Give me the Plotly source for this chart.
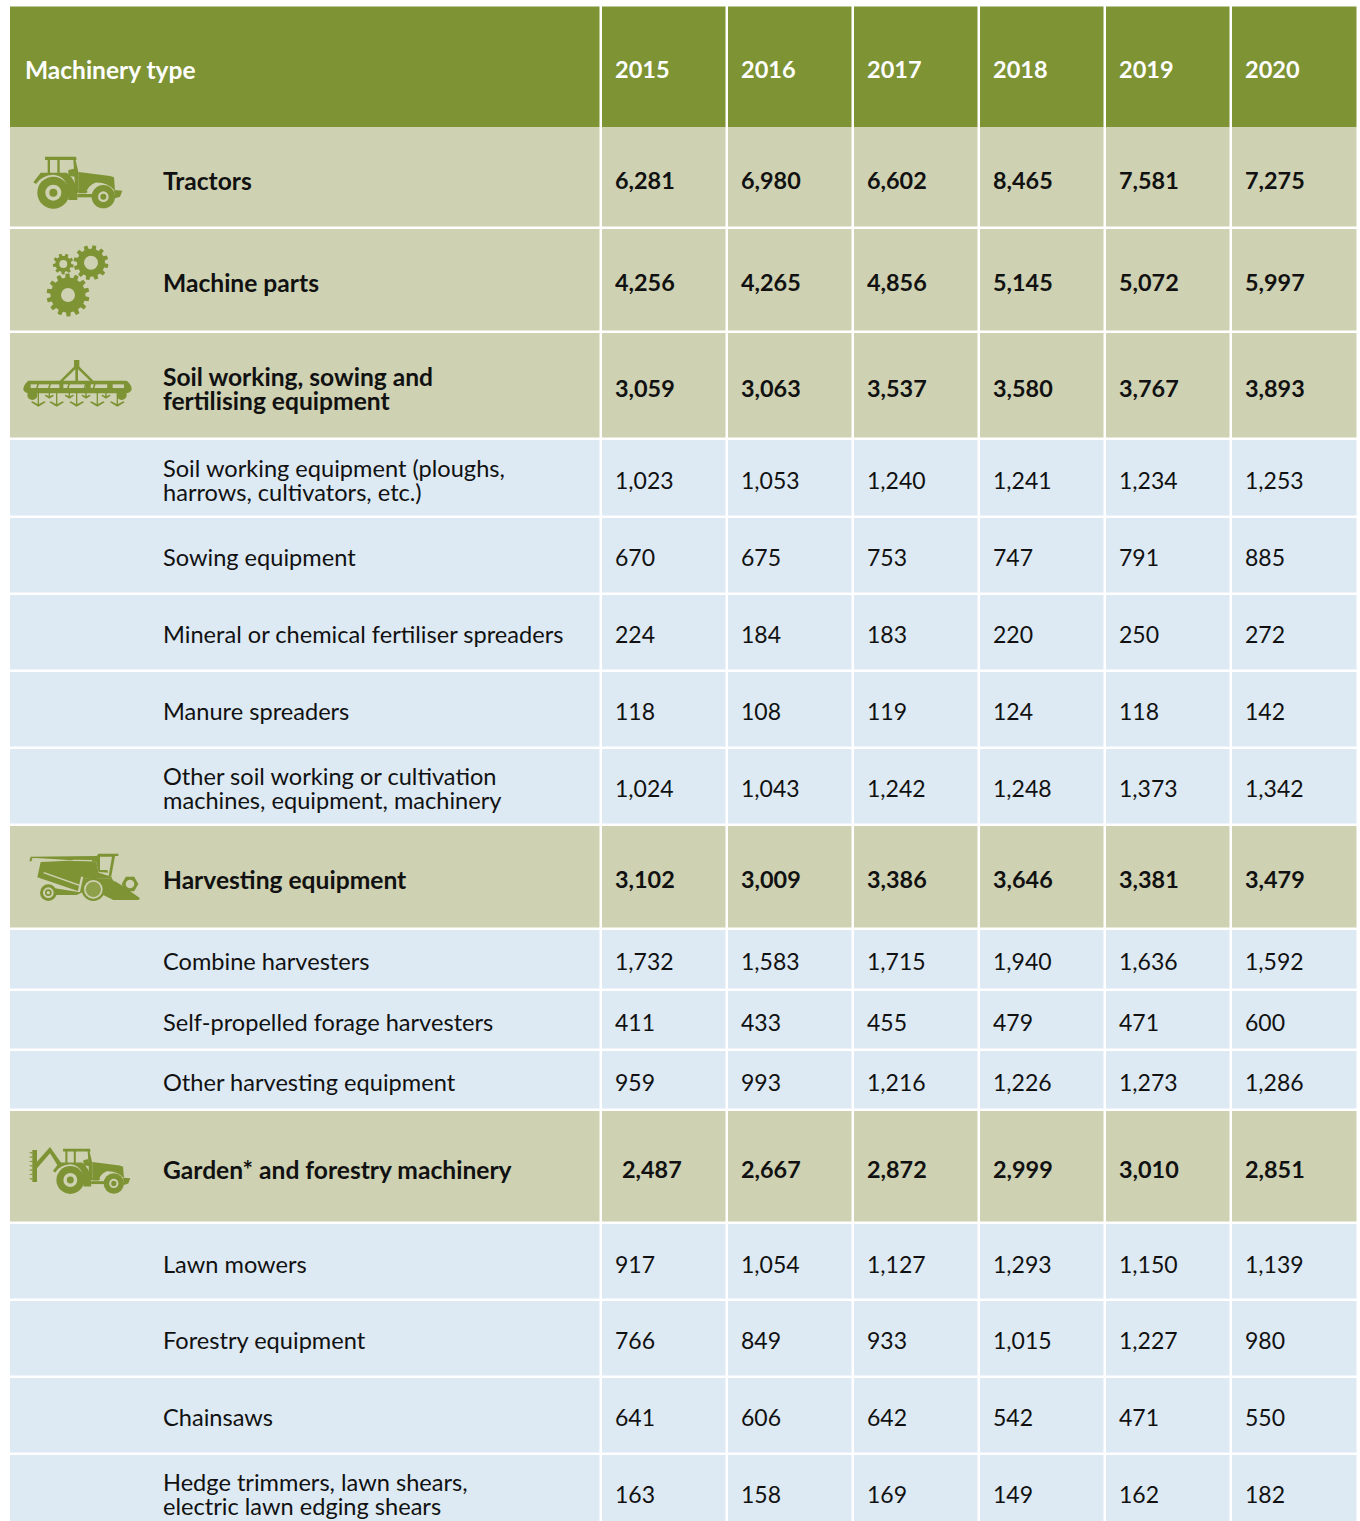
import math
import re
import plotly.graph_objects as go

# ---------- data ----------
header_label = "Machinery type"
years = ["2015", "2016", "2017", "2018", "2019", "2020"]
labels = [
    "Tractors", "Machine parts", "Soil working, sowing and\nfertilising equipment",
    "Soil working equipment (ploughs,\nharrows, cultivators, etc.)", "Sowing equipment",
    "Mineral or chemical fertiliser spreaders", "Manure spreaders",
    "Other soil working or cultivation\nmachines, equipment, machinery",
    "Harvesting equipment", "Combine harvesters", "Self-propelled forage harvesters",
    "Other harvesting equipment", "Garden* and forestry machinery", "Lawn mowers",
    "Forestry equipment", "Chainsaws",
    "Hedge trimmers, lawn shears,\nelectric lawn edging shears",
]
v2015 = ["6,281", "4,256", "3,059", "1,023", "670", "224", "118", "1,024", "3,102", "1,732", "411", "959", "2,487", "917", "766", "641", "163"]
v2016 = ["6,980", "4,265", "3,063", "1,053", "675", "184", "108", "1,043", "3,009", "1,583", "433", "993", "2,667", "1,054", "849", "606", "158"]
v2017 = ["6,602", "4,856", "3,537", "1,240", "753", "183", "119", "1,242", "3,386", "1,715", "455", "1,216", "2,872", "1,127", "933", "642", "169"]
v2018 = ["8,465", "5,145", "3,580", "1,241", "747", "220", "124", "1,248", "3,646", "1,940", "479", "1,226", "2,999", "1,293", "1,015", "542", "149"]
v2019 = ["7,581", "5,072", "3,767", "1,234", "791", "250", "118", "1,373", "3,381", "1,636", "471", "1,273", "3,010", "1,150", "1,227", "471", "162"]
v2020 = ["7,275", "5,997", "3,893", "1,253", "885", "272", "142", "1,342", "3,479", "1,592", "600", "1,286", "2,851", "1,139", "980", "550", "182"]
bold_rows = [0, 1, 2, 8, 12]
series = [v2015, v2016, v2017, v2018, v2019, v2020]

# ---------- layout ----------
GREEN, TAN, BLUE, INK = "#7d9334", "#ced1b2", "#ddeaf4", "#111111"
FONT = "Lato"
col_edges = [(10, 599.5), (602, 725.5), (728, 851.5), (854, 977.5), (980, 1103.5), (1106, 1229.5), (1232, 1356.5)]
row_edges = [(127, 226.5), (229, 330.5), (333, 437.5), (440, 515.5), (518, 592.5), (595, 669.5), (672, 746.5),
             (749, 823.5), (826, 927.5), (930, 988.5), (991, 1048.5), (1051, 1108.5), (1111, 1221.5),
             (1224, 1298.5), (1301, 1375.5), (1378, 1452.5), (1455, 1521)]
text_y = [183.5, 285.5, 391.5, 483.5, 560.5, 637.5, 714.5, 791.5, 882.5, 964.5, 1025.5, 1085.5, 1172.5, 1267.5, 1343.5, 1420.5, 1497.5]
col_x = [615, 741, 867, 993, 1119, 1245]
LABEL_X = 163
HEADER_Y = 72.5

shapes = []
def rect(x0, y0, x1, y1, c):
    shapes.append(dict(type="rect", x0=x0, x1=x1, y0=y0, y1=y1, fillcolor=c, line_width=0, layer="below"))
def tf(path, dx, dy, k):
    out, i = [], 0
    for tok in re.findall(r"[MLQCZ]|-?[\d.]+", path):
        if tok.isalpha():
            out.append(tok)
        else:
            out.append(f"{(float(tok) * k + (dy if i % 2 else dx)):.2f}")
            i += 1
    return " ".join(out)
def path(p, dx, dy, k=1 / 3, c=GREEN):
    shapes.append(dict(type="path", path=tf(p, dx, dy, k), fillcolor=c, line_width=0, layer="below"))
def circ(cx, cy, r, c=GREEN):
    shapes.append(dict(type="circle", x0=cx - r, x1=cx + r, y0=cy - r, y1=cy + r, fillcolor=c, line_width=0, layer="below"))

for (x0, x1) in col_edges:
    rect(x0, 6.5, x1, 127, GREEN)
    for i, (y0, y1) in enumerate(row_edges):
        rect(x0, y0, x1, y1, TAN if i in bold_rows else BLUE)

# ---------- icons ----------
def tractor(dx, dy, k):
    pts = [
        "M135,470 L228,470 L230,480 L135,480 Z",
        "M143,478 L150,478 L150,520 L143,520 Z",
        "M172,478 L179,478 L179,520 L172,520 Z",
        "M220,478 L226,478 L236,520 L236,575 L226,575 Z",
        "M100,547 L122,518 L200,518 Q228,540 232,575 L205,575 Q203,530 160,524 Q125,526 108,552 Z",
        "M236,516 L330,528 L342,532 L345,572 Q320,545 285,548 Q262,558 258,580 L236,580 Z",
        "M205,572 L262,572 L262,578 L232,578 L232,600 L205,600 Z",
        "M232,582 L278,582 L278,592 L232,592 Z",
        "M342,570 L367,572 L360,590 L345,595 Z",
        "M205,510 L222,506 L226,530 L205,528 Z",
    ]
    for p in pts:
        path(p, dx, dy, k)
    cx, cy = dx + 160 * k, dy + 578 * k
    circ(cx, cy, 48 * k); circ(cx, cy, 24 * k, TAN); circ(cx, cy, 12 * k)
    cx, cy = dx + 310 * k, dy + 590 * k
    circ(cx, cy, 35 * k); circ(cx, cy, 16 * k, TAN); circ(cx, cy, 9 * k)

tractor(0, 0, 1 / 3)
K = 0.29
tractor(70.3 - 160 * K, 1180 - 578 * K, K)
# arm of the garden tractor (zoom coords, crop y offset 1100)
path("M97,150 L111,150 L111,185 L150,141 L188,195 L178,205 L150,160 L111,205 L111,246 L97,246 Z", 0, 1100)
for t in range(7):
    y = 156 + t * 13
    path(f"M97,{y} L86,{y + 2} L97,{y + 5} Z", 0, 1100)

def gear(cx, cy, ro, rr, hole, n):
    p, w = [], 2 * math.pi / n
    for t in range(n):
        a = t * w + 0.2
        for da, r in ((-0.30, rr), (-0.20, ro), (0.20, ro), (0.30, rr)):
            p.append((cx + r * math.cos(a + da * w), cy + r * math.sin(a + da * w)))
    d = "M" + " L".join(f"{x:.2f},{y:.2f}" for x, y in p) + " Z"
    shapes.append(dict(type="path", path=d.replace(",", " "), fillcolor=GREEN, line_width=0, layer="below"))
    circ(cx, cy, hole, TAN)

gear(68, 295, 21.5, 17.5, 7, 14)
gear(91, 262.7, 17.5, 14, 7, 12)
gear(63.3, 264, 10.5, 8, 4, 9)

# cultivator (zoom coords, crop y offset 230)
O = 230
path("M222,390 L238,390 L238,410 L234,410 L234,455 L226,455 L226,410 L222,410 Z", 0, O)
path("M224,408 L232,412 L186,456 L176,456 Z", 0, O)
path("M236,408 L228,412 L274,456 L284,456 Z", 0, O)
path("M85,452 L380,452 Q396,465 395,478 Q392,488 380,490 L85,490 Q72,488 70,478 Q70,465 85,452 Z", 0, O)
for a, b in ((92, 178), (190, 258), (272, 322), (338, 372)):
    path(f"M{a},463 L{b},463 L{b},474 L{a},474 Z", 0, O, c=TAN)
for sx in (112, 148, 205, 255, 282, 325):
    path(f"M{sx},462 L{sx + 5},462 L{sx + 1},475 L{sx - 4},475 Z", 0, O)
for sx in (115, 170, 230, 292, 352):
    path(f"M{sx - 2},488 L{sx + 2},488 L{sx + 2},522 L{sx + 18},514 L{sx + 22},517 L{sx},530 L{sx - 22},517 L{sx - 18},514 L{sx - 2},522 Z", 0, O)
for sx in (148, 208, 258, 318):
    path(f"M{sx - 2},488 L{sx + 2},488 L{sx + 2},498 L{sx + 11},494 L{sx + 14},497 L{sx},506 L{sx - 14},497 L{sx - 11},494 L{sx - 2},498 Z", 0, O)
circ(97 / 3, O + 495 / 3, 5); circ(365 / 3, O + 495 / 3, 5)

# combine harvester (zoom coords, crop y offset 820)
O = 820
for p in [
    "M88,124 L92,110 L290,108 L295,101 L355,101 L355,108 L345,108 L334,168 L326,168 L336,110 L300,110 L300,150 L322,150 L325,158 L296,156 L288,124 L205,120 L108,114 L96,115 L95,124 Z",
    "M122,126 L205,122 L288,124 L296,158 L335,170 L336,176 L252,176 L240,215 L112,172 Z",
    "M245,176 L336,176 L345,188 L300,196 L250,215 L230,225 L165,225 L165,205 L235,216 Z",
    "M300,195 L345,184 L372,200 L420,235 L416,240 L340,240 L310,225 Z",
]:
    path(p, 0, O)
path("M218,119 L276,120 L276,124 L218,123 Z", 0, O, c=TAN)
path("M130,160 L132,156 L240,194 L238,198 Z", 0, O, c=TAN)
path("M243,170 L250,170 L240,216 L233,216 Z", 0, O, c=TAN)
path("M306,116 L330,116 L325,146 L306,146 Z", 0, O, c=TAN)
for (cx, cy, r, c) in [(280, 208, 35, GREEN), (280, 208, 28, TAN), (280, 208, 23, "#8fa04b"),
                       (145, 218, 25, GREEN), (145, 218, 16, TAN), (145, 218, 10, GREEN), (145, 218, 5, TAN)]:
    circ(cx / 3, O + cy / 3, r / 3, c)
hexp = " L".join(f"{390 + 25 * math.cos(math.pi * t / 3):.1f},{192 + 25 * math.sin(math.pi * t / 3):.1f}" for t in range(6))
path("M" + hexp + " Z", 0, O)
circ(130, O + 64, 4.3, TAN)

# ---------- text ----------
def text_trace(xs, ys, txt, color, weight, size):
    return go.Scatter(x=xs, y=ys, text=txt, mode="text", textposition="middle right", cliponaxis=False,
                      hoverinfo="skip", showlegend=False,
                      textfont=dict(family=FONT, size=size, color=color, weight=weight))

traces = [text_trace([25], [HEADER_Y], [header_label], "#ffffff", 700, 24.5),
          text_trace(col_x, [HEADER_Y] * 6, years, "#ffffff", 700, 23.5)]
for weight, wanted, lab_size, val_size in ((700, True, 24.6, 23.4), (400, False, 23.6, 23)):
    xs, ys, tx = [], [], []
    vx, vy, vt = [], [], []
    for i, lab in enumerate(labels):
        if (i in bold_rows) != wanted:
            continue
        parts = lab.split("\n")
        for j, part in enumerate(parts):
            xs.append(LABEL_X)
            ys.append(text_y[i] + (j - (len(parts) - 1) / 2) * 24)
            tx.append(part)
        for c, s in enumerate(series):
            nudge = 7 if (i == 12 and c == 0) else 0
            vx.append(col_x[c] + nudge)
            vy.append(text_y[i])
            vt.append(s[i])
    traces.append(text_trace(xs, ys, tx, INK, weight, lab_size))
    traces.append(text_trace(vx, vy, vt, INK, weight, val_size))

fig = go.Figure(traces)
fig.update_layout(width=1360, height=1521, margin=dict(l=0, r=0, t=0, b=0), paper_bgcolor="#ffffff",
                  plot_bgcolor="#ffffff", shapes=shapes, showlegend=False,
                  xaxis=dict(range=[0, 1360], visible=False, fixedrange=True),
                  yaxis=dict(range=[1521, 0], visible=False, fixedrange=True))
fig.write_html("out.html", config=dict(displayModeBar=False),
               post_script="document.body.style.margin='0';document.body.style.overflow='hidden';")
